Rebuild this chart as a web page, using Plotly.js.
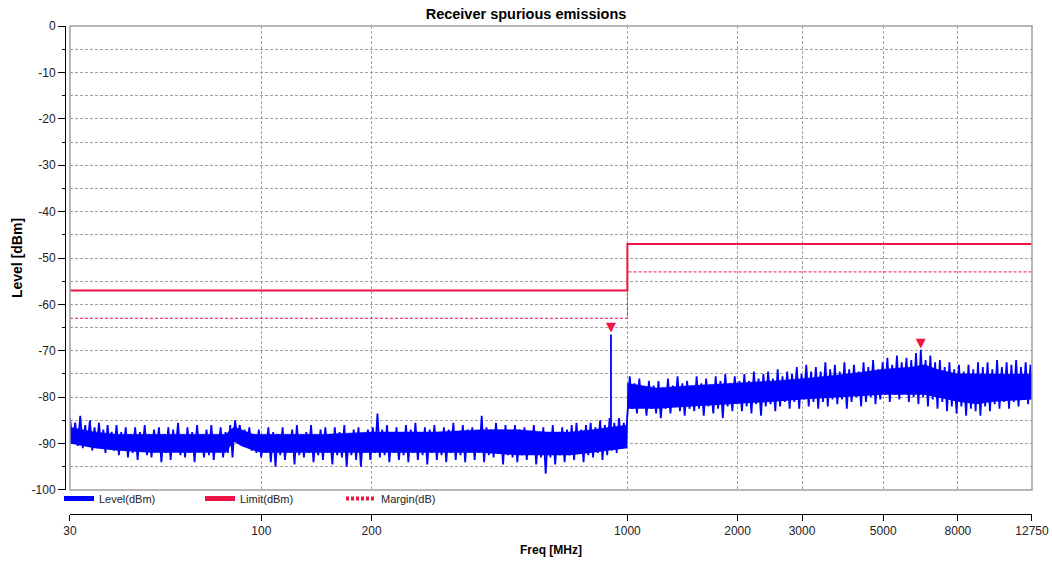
<!DOCTYPE html>
<html><head><meta charset="utf-8">
<script src="https://cdn.plot.ly/plotly-3.0.1.min.js"></script>
<style>html,body{margin:0;padding:0;background:#fff}#chart{width:1052px;height:568px}</style>
</head><body><div id="chart"></div>
<script>
const seg1Freq = [
  30, 30.5, 31, 31.5, 32, 32.5, 33, 33.5, 34, 34.5,
  35, 35.5, 36, 36.5, 37, 37.5, 38, 38.5, 39, 39.6,
  40.2, 40.8, 41.4, 42, 42.6, 43.2, 43.8, 44.5, 45.2, 45.9,
  46.6, 47.3, 48, 48.7, 49.4, 50.1, 50.9, 51.7, 52.5, 53.3,
  54.1, 54.9, 55.7, 56.5, 57.4, 58.3, 59.2, 60.1, 61, 61.9,
  62.8, 63.7, 64.7, 65.7, 66.7, 67.7, 68.7, 69.7, 70.8, 71.9,
  73, 74.1, 75.2, 76.3, 77.4, 78.6, 79.8, 81, 82.2, 83.4,
  84.7, 86, 87.3, 88.6, 89.9, 91.3, 92.7, 94.1, 95.5, 96.9,
  98.4, 99.9, 101.4, 102.9, 104.5, 106.1, 107.7, 109.3, 110.9, 112.6,
  114.3, 116, 117.8, 119.6, 121.4, 123.2, 125, 126.9, 128.8, 130.7,
  132.7, 134.7, 136.7, 138.8, 140.9, 143, 145.1, 147.3, 149.5, 151.7,
  154, 156.3, 158.7, 161.1, 163.5, 166, 168.5, 171, 173.6, 176.2,
  178.8, 181.5, 184.2, 187, 189.8, 192.6, 195.5, 198.5, 201.5, 204.5,
  207.6, 210.7, 213.9, 217.1, 220.4, 223.7, 227.1, 230.5, 234, 237.5,
  241.1, 244.7, 248.4, 252.1, 255.9, 259.7, 263.6, 267.6, 271.6, 275.7,
  279.8, 284, 288.3, 292.6, 297, 301.5, 306, 310.6, 315.3, 320,
  324.8, 329.7, 334.6, 339.6, 344.7, 349.9, 355.1, 360.4, 365.8, 371.3,
  376.9, 382.6, 388.3, 394.1, 400, 406, 412.1, 418.3, 424.6, 431,
  437.5, 444, 450.7, 457.5, 464.4, 471.4, 478.5, 485.7, 493, 500.4,
  507.9, 515.5, 523.2, 531, 539, 547.1, 555.3, 563.6, 572, 580.6,
  589.3, 598.1, 607.1, 616.2, 625.4, 634.8, 644.3, 654, 663.8, 673.8,
  683.9, 694.2, 704.6, 715.2, 725.9, 736.8, 747.9, 759.1, 770.5, 782.1,
  793.8, 805.7, 817.8, 830.1, 842.5, 855.1, 867.9, 880.9, 894.1, 907.5,
  921.1, 934.9, 948.9, 963.1, 977.5, 992.2, 999
];
const seg1Dbm = [
  -84.5, -89.5, -85.5, -90.5, -84, -91, -86, -90, -85, -91.5,
  -86.5, -90.5, -85.5, -91, -87, -92, -86, -90.5, -87.5, -91.5,
  -86, -92.5, -87.5, -91, -86.5, -93, -88, -92, -86.5, -93.5,
  -87.5, -91.5, -86, -92.5, -88, -93, -87, -91.5, -86.5, -94,
  -88, -92, -86.5, -93.5, -87, -91.5, -85.5, -92.5, -88, -93,
  -86.5, -92, -87.5, -94, -86, -91.5, -88, -93, -87, -92.5,
  -86, -93.5, -88, -91.5, -86.5, -93, -87.5, -92, -86, -93,
  -85, -88.5, -86, -89.5, -87, -90.5, -86.5, -91.5, -88, -92,
  -87, -93, -88.5, -92, -86.5, -94, -87.5, -95, -88, -92.5,
  -86.5, -93.5, -88, -92, -87, -94.5, -86, -92.5, -88, -93,
  -87.5, -92, -86, -94, -88.5, -92.5, -87, -93.5, -86.5, -92,
  -88, -94.5, -86.5, -92.5, -87.5, -93, -86, -95, -88, -92.5,
  -87, -93.5, -86.5, -95, -88, -92, -87, -93.5, -86.5, -92,
  -83.5, -93, -87, -92.5, -86, -94, -87.5, -92, -86.5, -93.5,
  -88, -92.5, -86, -94, -87, -92, -85.5, -93.5, -87.5, -92.5,
  -86.5, -94.5, -87, -92, -86, -93.5, -88, -92.5, -86.5, -94,
  -87, -92, -85.5, -93.5, -87.5, -92.5, -86, -94, -87, -92,
  -86.5, -93.5, -87.5, -92, -84, -94, -86.5, -92.5, -87, -93,
  -85.5, -92, -87, -94.5, -86, -92.5, -87.5, -93, -86, -94,
  -87, -92.5, -86.5, -93.5, -88, -92, -86, -94.5, -87.5, -93,
  -86.5, -96.5, -87.5, -93, -86, -94.5, -88, -92.5, -86.5, -94,
  -87, -92.5, -86, -93.5, -85.5, -92, -87, -94, -86, -92.5,
  -85.5, -93, -86.5, -92, -85, -93.5, -86, -92.5, -84.5, -91.5,
  -85.5, -92, -84.5, -91, -85.5, -90.5, -84
];
// Measured trace, 1 GHz - 12.75 GHz
const seg2Freq = [
  1000, 1015, 1030, 1046, 1062, 1078, 1094, 1111, 1128, 1145,
  1162, 1180, 1198, 1216, 1234, 1253, 1272, 1291, 1311, 1331,
  1351, 1371, 1392, 1413, 1434, 1456, 1478, 1500, 1523, 1546,
  1569, 1593, 1617, 1641, 1666, 1691, 1717, 1743, 1769, 1796,
  1823, 1851, 1879, 1907, 1936, 1965, 1995, 2025, 2056, 2087,
  2118, 2150, 2183, 2216, 2249, 2283, 2318, 2353, 2388, 2424,
  2461, 2498, 2536, 2574, 2613, 2653, 2693, 2734, 2775, 2817,
  2860, 2903, 2947, 2991, 3036, 3082, 3129, 3176, 3224, 3273,
  3322, 3372, 3423, 3475, 3528, 3581, 3635, 3690, 3746, 3803,
  3860, 3918, 3977, 4037, 4098, 4160, 4223, 4287, 4352, 4418,
  4485, 4553, 4622, 4692, 4763, 4835, 4908, 4982, 5057, 5133,
  5211, 5290, 5370, 5451, 5533, 5617, 5702, 5788, 5876, 5965,
  6055, 6147, 6240, 6334, 6430, 6527, 6626, 6726, 6828, 6931,
  7036, 7142, 7250, 7360, 7471, 7584, 7699, 7815, 7933, 8053,
  8175, 8299, 8424, 8551, 8680, 8811, 8944, 9079, 9216, 9355,
  9496, 9640, 9786, 9934, 10084, 10236, 10391, 10548, 10707, 10869,
  11033, 11200, 11369, 11541, 11715, 11892, 12072, 12254, 12439, 12627,
  12750
];
const seg2Dbm = [
  -84, -75.5, -82.5, -77, -83.5, -76, -82, -78, -84, -76.5,
  -82.5, -77.5, -83.5, -76.5, -84.5, -78, -82.5, -76, -83.5, -77.5,
  -82, -75.5, -83, -77, -84, -76.5, -82.5, -78, -83, -75.5,
  -82.5, -77, -84, -76, -82, -77.5, -83.5, -75.5, -82.5, -76.5,
  -84.5, -75, -82, -77, -83, -75.5, -81.5, -76.5, -83, -75,
  -82, -76.5, -83.5, -74.5, -81.5, -76, -84, -75, -82, -74.5,
  -81.5, -76, -83, -74, -82, -75.5, -81, -74.5, -82.5, -75,
  -81, -73.5, -82.5, -75, -80.5, -73, -82, -74.5, -81, -73.5,
  -82.5, -74.5, -81, -72.5, -82, -74, -80.5, -73, -81.5, -74.5,
  -80.5, -72.5, -82.5, -74, -81, -73, -80, -74.5, -82, -72.5,
  -81, -73.5, -80, -72, -81.5, -74, -80.5, -72.5, -79.5, -71.5,
  -81, -73, -79.5, -71, -80.5, -72.5, -79, -71.5, -81, -72,
  -80, -70.5, -81.5, -69.8, -80, -72, -82, -71, -80.5, -72.5,
  -82.5, -72, -81, -73.5, -83, -72.5, -82, -74, -83.5, -73,
  -82, -74.5, -84, -73, -82.5, -74, -83, -72.5, -84, -73.5,
  -82, -72.5, -83, -74, -81.5, -72, -82.5, -73.5, -81, -72.5,
  -82.5, -73, -81, -72, -82, -73.5, -80.5, -72.5, -81.5, -73,
  -80.5
];
// Dense core of the noise band (upper / lower edge)
const bandFreq  = [30, 35, 40, 50, 60, 70, 80, 84, 88, 95, 100, 150, 200, 300, 400, 500, 600, 700, 800, 900, 1000,
                   1000, 1200, 1500, 2000, 2500, 3000, 4000, 5000, 6000, 6500, 7000, 8000, 9000, 10000, 12750];
const bandUpper = [-86.5, -87.5, -88, -88, -88, -88, -88, -86.5, -87, -88, -88, -88, -87.5, -87.5, -87, -87, -87.5, -87.5, -87, -86.5, -86,
                   -77, -78, -77.5, -77, -76.5, -76, -75, -74, -73.5, -73, -74, -75, -75, -75, -75];
const bandLower = [-90, -91, -91.5, -92, -92, -92, -92, -89.5, -90.5, -91.5, -92, -92, -92, -92, -92, -92.5, -92.5, -92.5, -92, -91.5, -91,
                   -82.5, -82.5, -82, -81.5, -81, -80.5, -80, -79.5, -79.5, -79.5, -80, -81, -81.5, -81, -80.5];
// Spurious line near 902 MHz
const spurFreq  = [902, 902];
const spurDbm   = [-88, -66.5];
// Peak markers
const peakFreq  = [902, 6334];
const peakDbm   = [-66.5, -69.8];
// Limit and margin lines
const limitFreq  = [30, 1000, 1000, 12750];
const limitDbm   = [-57, -57, -47, -47];
const marginFreq = [30, 1000, 1000, 12750];
const marginDbm  = [-63, -63, -53, -53];
// Axis ticks
const xTickVals = [30, 100, 200, 1000, 2000, 3000, 5000, 8000, 12750];
const xTickText = ['30', '100', '200', '1000', '2000', '3000', '5000', '8000', '12750'];
const yTickVals = [0, -10, -20, -30, -40, -50, -60, -70, -80, -90, -100];
const yTickText = ['0', '-10', '-20', '-30', '-40', '-50', '-60', '-70', '-80', '-90', '-100'];
const yMinorVals = [-5, -15, -25, -35, -45, -55, -65, -75, -85, -95];
const legendNames = ['Level(dBm)', 'Limit(dBm)', 'Margin(dB)'];

const BLUE = '#0000ff';
const RED = '#ee1446';
const GRID = '#a0a0a0';
const NARROW = 'Liberation Sans Narrow, Arial Narrow, Liberation Sans, Arial, sans-serif';
const SANS = 'Liberation Sans, Arial, sans-serif';

const levelFreq = seg1Freq.concat(seg2Freq);
const levelDbm = seg1Dbm.concat(seg2Dbm);

const traces = [
  {x: bandFreq, y: bandLower, type: 'scatter', mode: 'lines', line: {width: 0, color: BLUE}, showlegend: false},
  {x: bandFreq, y: bandUpper, type: 'scatter', mode: 'lines', fill: 'tonexty', fillcolor: BLUE, line: {width: 0.5, color: BLUE}, showlegend: false},
  {x: levelFreq, y: levelDbm, type: 'scatter', mode: 'lines', line: {width: 1.8, color: BLUE}, showlegend: false},
  {x: spurFreq, y: spurDbm, type: 'scatter', mode: 'lines', line: {width: 1.8, color: BLUE}, showlegend: false},
  {x: limitFreq, y: limitDbm, type: 'scatter', mode: 'lines', line: {width: 2, color: RED}, showlegend: false},
  {x: marginFreq, y: marginDbm, type: 'scatter', mode: 'lines', line: {width: 1, color: RED, dash: '3px,2px'}, showlegend: false},
  {x: peakFreq, y: peakDbm, type: 'scatter', mode: 'text', text: ['▼', '▼'], textposition: 'top center',
   textfont: {color: RED, size: 13, family: 'DejaVu Sans'}, showlegend: false},
  {x: [null], y: [null], type: 'scatter', mode: 'lines', name: legendNames[0], line: {width: 5, color: BLUE}},
  {x: [null], y: [null], type: 'scatter', mode: 'lines', name: legendNames[1], line: {width: 5, color: RED}},
  {x: [null], y: [null], type: 'scatter', mode: 'lines', name: legendNames[2], line: {width: 4, color: RED, dash: '3px,2px'}}
];

const layout = {
  width: 1052, height: 568,
  margin: {l: 65, r: 20, t: 26, b: 54, pad: 0},
  paper_bgcolor: '#fff', plot_bgcolor: '#fff',
  showlegend: true,
  hovermode: false,
  title: {text: '<b>Receiver spurious emissions</b>', font: {family: SANS, size: 14.5, color: '#000'},
          x: 0.5, xref: 'container', y: 1 - 14 / 568, yref: 'container', yanchor: 'middle'},
  legend: {orientation: 'h', traceorder: 'normal', x: -0.0062, xanchor: 'left', y: 0.0615, yanchor: 'top',
           font: {family: SANS, size: 11, color: '#222'}, entrywidth: 96, entrywidthmode: 'pixels',
           itemwidth: 30, bgcolor: 'rgba(0,0,0,0)', tracegroupgap: 0},
  xaxis: {
    type: 'log', range: [Math.log10(30), Math.log10(12750)], domain: [0.00517, 1],
    anchor: 'free', position: 0,
    showline: true, linecolor: '#000', linewidth: 1,
    ticks: 'outside', ticklen: 6, tickcolor: '#000', tickwidth: 1,
    tickmode: 'array', tickvals: xTickVals, ticktext: xTickText,
    tickfont: {family: NARROW, size: 12, color: '#222'},
    showgrid: true, gridcolor: GRID, griddash: '3px,2px', gridwidth: 1, zeroline: false,
    title: {text: '<b>Freq [MHz]</b>', font: {family: SANS, size: 12, color: '#000'}, standoff: 8}
  },
  yaxis: {
    range: [-100, 0], domain: [0.0492, 1],
    anchor: 'free', position: 0,
    showline: true, linecolor: '#000', linewidth: 1,
    ticks: 'outside', ticklen: 7, tickcolor: '#000', tickwidth: 1,
    tickmode: 'array', tickvals: yTickVals, ticktext: yTickText,
    tickfont: {family: NARROW, size: 12, color: '#222'},
    minor: {tickmode: 'array', tickvals: yMinorVals, ticks: 'outside', ticklen: 3, tickcolor: '#000',
            showgrid: true, gridcolor: GRID, griddash: '3px,2px', gridwidth: 1},
    showgrid: true, gridcolor: GRID, griddash: '3px,2px', gridwidth: 1, zeroline: false,
    title: {text: '<b>Level [dBm]</b>', font: {family: SANS, size: 14, color: '#000'}, standoff: 4}
  },
  shapes: [
    {type: 'rect', xref: 'x domain', yref: 'y domain', x0: 0, x1: 1, y0: 0, y1: 1,
     line: {color: GRID, width: 1.5}, layer: 'above'}
  ]
};

Plotly.newPlot('chart', traces, layout, {staticPlot: true, displayModeBar: false});
</script>
</body></html>
